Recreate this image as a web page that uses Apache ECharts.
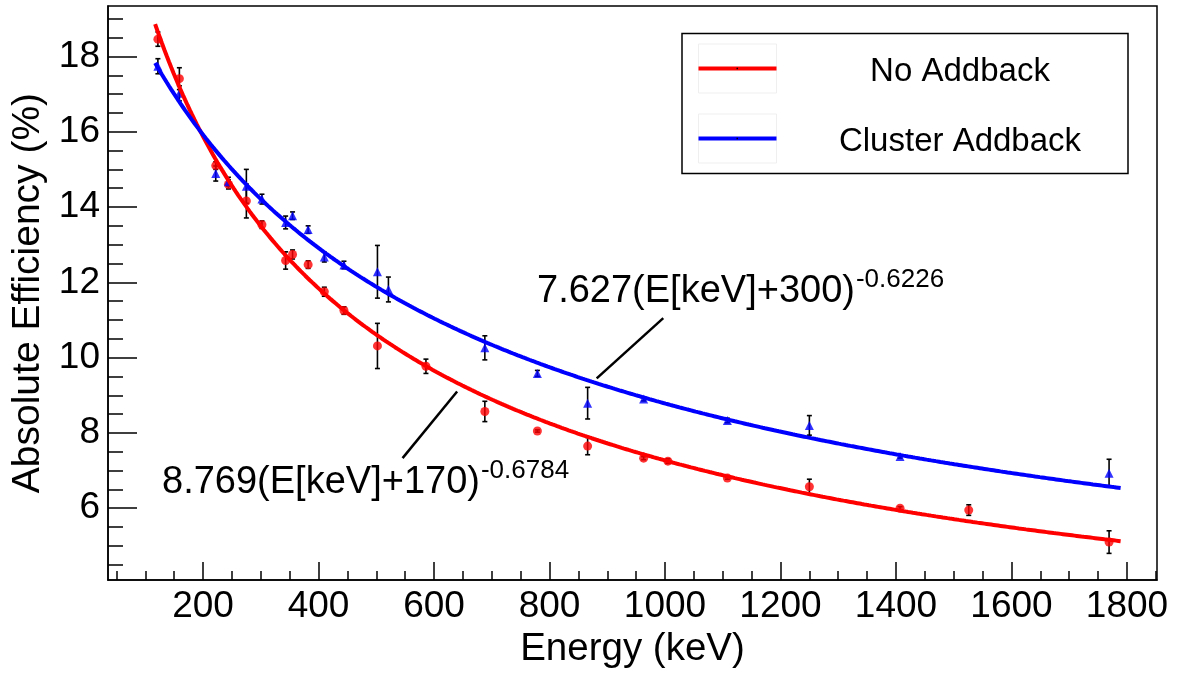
<!DOCTYPE html>
<html><head><meta charset="utf-8">
<script src="https://cdn.jsdelivr.net/npm/echarts@6/dist/echarts.min.js"></script>
<style>html,body{margin:0;padding:0;background:#fff}#c{width:1178px;height:674px}</style>
</head><body><div id="c"></div>
<script>
// ---- Data ----
const energyNoAddback = [121.8, 159, 222, 244, 275, 302, 343, 355, 382, 410, 444, 502, 586, 688, 779, 866, 963, 1005, 1108, 1250, 1407, 1526, 1769];
const effNoAddback    = [18.46, 17.41, 15.10, 14.60, 14.16, 13.53, 12.58, 12.74, 12.47, 11.75, 11.25, 10.31, 9.77, 8.57, 8.05, 7.65, 7.33, 7.25, 6.80, 6.57, 6.00, 5.95, 5.10];
const errNoAddback    = [0.19, 0.29, 0.10, 0.12, 0.45, 0.10, 0.23, 0.12, 0.10, 0.12, 0.10, 0.60, 0.19, 0.27, 0.03, 0.23, 0.04, 0.06, 0.03, 0.20, 0.04, 0.14, 0.30];

const energyAddback = [121.8, 159, 222, 244, 275, 302, 343, 355, 382, 410, 444, 502, 521, 688, 779, 866, 963, 1108, 1250, 1407, 1769];
const effAddback    = [17.74, 17.02, 14.89, 14.67, 14.55, 14.21, 13.59, 13.77, 13.40, 12.67, 12.46, 12.28, 11.81, 10.26, 9.58, 8.79, 8.90, 8.33, 8.20, 7.37, 6.93];
const errAddback    = [0.20, 0.20, 0.20, 0.12, 0.45, 0.13, 0.17, 0.10, 0.10, 0.13, 0.10, 0.70, 0.33, 0.32, 0.08, 0.42, 0.05, 0.06, 0.26, 0.04, 0.37];

// fit parameters printed on the chart: a*(E+c)^p  (fraction -> %)
const fitNoAddback = [8.769, 170, -0.6784];
const fitAddback   = [7.627, 300, -0.6226];
const fitRange     = [117, 1790];

const seriesNames = ['No Addback', 'Cluster Addback'];
const xMajorTicks = [200, 400, 600, 800, 1000, 1200, 1400, 1600, 1800];
const yMajorTicks = [6, 8, 10, 12, 14, 16, 18];
const xRange = [35.4, 1852];
const yRange = [4.09, 19.34];
const axisTitles = ['Energy (keV)', 'Absolute Efficiency (%)'];
const fitLabels = ['8.769(E[keV]+170)', '-0.6784', '7.627(E[keV]+300)', '-0.6226'];

// minor tick positions (every 50 keV / 0.5 %)
const xMinorTicks = []; for (let v = 50; v <= 1850; v += 50) xMinorTicks.push(v);
const yMinorTicks = []; for (let v = 4.5; v <= 19.01; v += 0.5) yMinorTicks.push(+v.toFixed(1));

// ---- Chart ----
const FONT = '"Liberation Sans", Arial, Helvetica, sans-serif';
const RED = '#ff0000', BLUE = '#0000ff';
const chart = echarts.init(document.getElementById('c'));

function fitCurve(p) {
  const pts = [];
  for (let e = fitRange[0]; e < fitRange[1]; e += 4) pts.push([e, 100 * p[0] * Math.pow(e + p[1], p[2])]);
  pts.push([fitRange[1], 100 * p[0] * Math.pow(fitRange[1] + p[1], p[2])]);
  return pts;
}
function errData(xs, ys, es) { return xs.map((x, i) => [x, ys[i], es[i]]); }
function errRender(params, api) {
  const x = api.value(0), y = api.value(1), e = api.value(2);
  const t = api.coord([x, y + e]), b = api.coord([x, y - e]);
  const hw = 2.5, st = { stroke: '#000', lineWidth: 1.6 };
  return { type: 'group', children: [
    { type: 'line', shape: { x1: t[0], y1: t[1], x2: b[0], y2: b[1] }, style: st },
    { type: 'line', shape: { x1: t[0] - hw, y1: t[1], x2: t[0] + hw, y2: t[1] }, style: st },
    { type: 'line', shape: { x1: b[0] - hw, y1: b[1], x2: b[0] + hw, y2: b[1] }, style: st }
  ]};
}

const tickStyle = { color: '#000', width: 1.5 };
const option = {
  animation: false,
  backgroundColor: '#fff',
  grid: { left: 108, right: 21, top: 6, bottom: 88, show: true, borderColor: '#000', borderWidth: 1.5, backgroundColor: 'transparent' },
  xAxis: [
    { type: 'value', min: xRange[0], max: xRange[1], position: 'bottom',
      axisLine: { show: true, lineStyle: tickStyle },
      axisTick: { show: true, inside: true, length: 18, customValues: xMajorTicks, lineStyle: tickStyle },
      axisLabel: { customValues: xMajorTicks, formatter: v => String(v), color: '#000', fontSize: 37, fontFamily: FONT, margin: 8 },
      splitLine: { show: false },
      name: axisTitles[0], nameLocation: 'middle', nameGap: 46,
      nameTextStyle: { color: '#000', fontSize: 38.5, fontFamily: FONT } },
    { type: 'value', min: xRange[0], max: xRange[1], position: 'bottom',
      axisLine: { show: false },
      axisTick: { show: true, inside: true, length: 9, customValues: xMinorTicks, lineStyle: tickStyle },
      axisLabel: { show: false }, splitLine: { show: false } }
  ],
  yAxis: [
    { type: 'value', min: yRange[0], max: yRange[1], position: 'left',
      axisLine: { show: true, lineStyle: tickStyle },
      axisTick: { show: true, inside: true, length: 29, customValues: yMajorTicks, lineStyle: tickStyle },
      axisLabel: { customValues: yMajorTicks, formatter: v => String(v), color: '#000', fontSize: 37, fontFamily: FONT, margin: 8 },
      splitLine: { show: false },
      name: axisTitles[1], nameLocation: 'middle', nameGap: 49, nameRotate: 90,
      nameTextStyle: { color: '#000', fontSize: 39, fontFamily: FONT } },
    { type: 'value', min: yRange[0], max: yRange[1], position: 'left',
      axisLine: { show: false },
      axisTick: { show: true, inside: true, length: 15, customValues: yMinorTicks, lineStyle: tickStyle },
      axisLabel: { show: false }, splitLine: { show: false } }
  ],
  series: [
    { name: seriesNames[0] + ' err', type: 'custom', renderItem: errRender, data: errData(energyNoAddback, effNoAddback, errNoAddback), z: 2, silent: true },
    { name: seriesNames[0], type: 'scatter', data: energyNoAddback.map((x, i) => [x, effNoAddback[i]]), symbol: 'circle', symbolSize: 9, itemStyle: { color: RED }, z: 3 },
    { name: seriesNames[0] + ' fit', type: 'line', data: fitCurve(fitNoAddback), showSymbol: false, lineStyle: { color: RED, width: 4 }, z: 4 },
    { name: seriesNames[1] + ' err', type: 'custom', renderItem: errRender, data: errData(energyAddback, effAddback, errAddback), z: 2, silent: true },
    { name: seriesNames[1], type: 'scatter', data: energyAddback.map((x, i) => [x, effAddback[i]]), symbol: 'triangle', symbolSize: 9, itemStyle: { color: BLUE }, z: 3 },
    { name: seriesNames[1] + ' fit', type: 'line', data: fitCurve(fitAddback), showSymbol: false, lineStyle: { color: BLUE, width: 4 }, z: 4 }
  ]
};
chart.setOption(option);

// ---- Annotations & legend ----
const ctx = document.createElement('canvas').getContext('2d');
function textW(t, fs) { ctx.font = fs + 'px ' + FONT; return ctx.measureText(t).width; }
const px = (x, y) => chart.convertToPixel({ xAxisIndex: 0, yAxisIndex: 0 }, [x, y]);

// pointer line ends (data coords)
const redPtr = [px(640, 9.10), px(545.5, 7.33)];
const bluePtr = [px(997, 11.05), px(881.7, 9.45)];
const MAINFS = 38, SUPFS = 26;
const redMain = { x: 162, y: 483 }, blueMain = { x: 537, y: 292 };

const g = [];
function formula(pos, main, sup) {
  g.push({ type: 'text', x: pos.x, y: pos.y, style: { text: main, font: MAINFS + 'px ' + FONT, fill: '#000', verticalAlign: 'middle', align: 'left' }, z: 10 });
  g.push({ type: 'text', x: pos.x + textW(main, MAINFS) + 1, y: pos.y - 12, style: { text: sup, font: SUPFS + 'px ' + FONT, fill: '#000', verticalAlign: 'middle', align: 'left' }, z: 10 });
}
formula(redMain, fitLabels[0], fitLabels[1]);
formula(blueMain, fitLabels[2], fitLabels[3]);
g.push({ type: 'line', shape: { x1: redPtr[0][0], y1: redPtr[0][1], x2: redPtr[1][0], y2: redPtr[1][1] }, style: { stroke: '#000', lineWidth: 2.5 }, z: 10 });
g.push({ type: 'line', shape: { x1: bluePtr[0][0], y1: bluePtr[0][1], x2: bluePtr[1][0], y2: bluePtr[1][1] }, style: { stroke: '#000', lineWidth: 2.5 }, z: 10 });

// legend box
g.push({ type: 'rect', shape: { x: 682, y: 33.5, width: 446, height: 140 }, style: { fill: '#fff', stroke: '#000', lineWidth: 1.5 }, z: 20 });
[[RED, 68.5, seriesNames[0]], [BLUE, 138.5, seriesNames[1]]].forEach(([c, y, t]) => {
  g.push({ type: 'rect', shape: { x: 698.5, y: y - 24.5, width: 78, height: 49 }, style: { fill: 'none', stroke: '#efefef', lineWidth: 1 }, z: 21 });
  g.push({ type: 'line', shape: { x1: 698.5, y1: y, x2: 776.5, y2: y }, style: { stroke: c, lineWidth: 4 }, z: 22 });
  g.push({ type: 'rect', shape: { x: 736.5, y: y - 0.75, width: 1.5, height: 1.5 }, style: { fill: '#000' }, z: 23 });
  g.push({ type: 'text', x: 960, y: y + 3.5, style: { text: t, font: '33px ' + FONT, fill: '#000', align: 'center', verticalAlign: 'middle' }, z: 22 });
});
chart.setOption({ graphic: g });
</script>
</body></html>
